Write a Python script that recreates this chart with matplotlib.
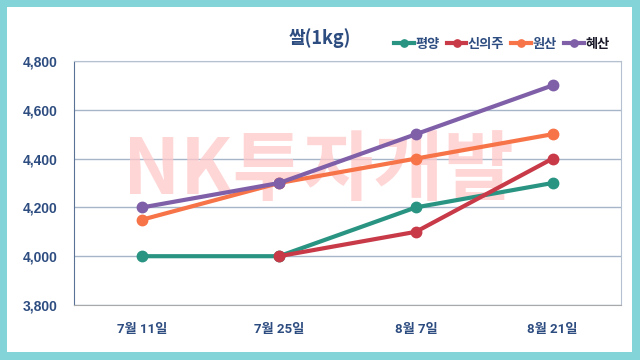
import matplotlib
matplotlib.use("Agg")
import matplotlib.pyplot as plt
import numpy as np
from matplotlib.patches import Rectangle

plt.rcParams['font.family'] = ['Noto Sans CJK KR', 'DejaVu Sans']

categories = ["7월 11일", "7월 25일", "8월 7일", "8월 21일"]
series_names = ["평양", "신의주", "원산", "혜산"]
pyongyang = [4000, 4000, 4200, 4300]
sinuiju = [np.nan, 4000, 4100, 4400]
wonsan = [4150, 4300, 4400, 4500]
hyesan = [4200, 4300, 4500, 4700]
yticks = [3800, 4000, 4200, 4400, 4600, 4800]
colors = ["#2a9482", "#c83a48", "#f77449", "#7f5fa8"]

fig = plt.figure(figsize=(6.4, 3.6), dpi=100)
fig.patch.set_facecolor("#82d4d8")
fig.patches.append(Rectangle((7/640, 8/360), 625/640, 345/360, transform=fig.transFigure,
                             facecolor="white", edgecolor="none", zorder=-10))

ax = fig.add_axes([74/640, 55/360, 547/640, 244/360])
ax.set_facecolor("none")
x = np.arange(len(categories))
for name, vals, c in zip(series_names, [pyongyang, sinuiju, wonsan, hyesan], colors):
    ax.plot(x, vals, color=c, lw=3, marker="o", markersize=7.5, label=name, zorder=3)

ax.set_xlim(-0.5, len(categories) - 0.5)
ax.set_ylim(3800, 4800)
ax.set_yticks(yticks)
ax.set_yticklabels([f"{v:,}" for v in yticks], family=['Liberation Sans', 'DejaVu Sans'],
                   fontweight="bold", fontsize=10)
ax.set_xticks(x)
ax.set_xticklabels(categories, family=['Roboto', 'Noto Sans CJK KR'], fontweight="bold",
                   fontsize=9.5)
ax.grid(axis="y", color="#a7b5c9", lw=1, zorder=1)
ax.set_axisbelow(True)
ax.tick_params(length=0, colors="#2d4c80")
ax.tick_params(axis="x", pad=13)
ax.tick_params(axis="y", pad=12)
for s in ["top", "right"]:
    ax.spines[s].set_color("#b5c1d1")
ax.spines["left"].set_color("#5a7196")
ax.spines["bottom"].set_color("#a9a9a9")

ax.text(0.497, 0.525, "NK투자개발", transform=fig.transFigure, fontsize=55, fontweight="heavy",
        color="#ffc9c9", alpha=0.75, ha="center", va="center", zorder=2)

fig.text(320/640, 1 - 38/360, "쌀(1kg)", fontsize=13, fontweight="bold", color="#2d4c80",
         ha="center", va="center")
leg = fig.legend(loc="center right", bbox_to_anchor=(616/640, 1 - 44/360), ncol=4,
                 frameon=False, handlelength=1.5, columnspacing=0.55, handletextpad=0.1,
                 borderpad=0, markerscale=0.7, prop={"size": 9.5, "weight": "bold"})
for t in leg.get_texts():
    t.set_color("#2d4c80")
leg.get_texts()[-1].set_color("#1a1a2a")

fig.savefig("out.png", dpi=100)
